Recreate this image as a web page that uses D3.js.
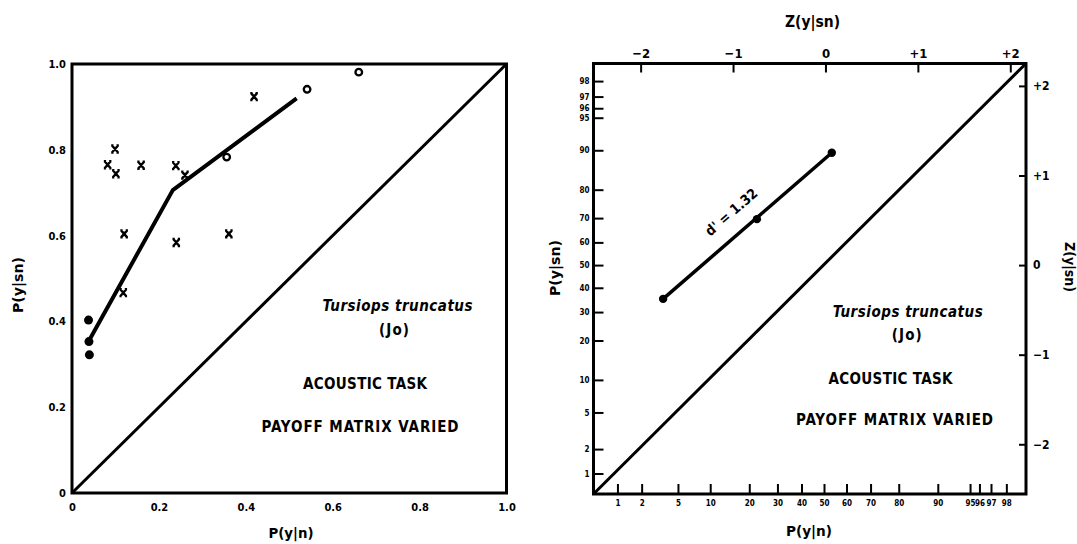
<!DOCTYPE html>
<html>
<head>
<meta charset="utf-8">
<script src="https://cdn.jsdelivr.net/npm/d3@7"></script>
<style>
  html,body{margin:0;padding:0;background:#fff;}
  svg{display:block;}
  text{font-family:"DejaVu Sans Condensed","Liberation Sans Narrow","Arial Narrow","DejaVu Sans",sans-serif;font-stretch:condensed;font-weight:bold;fill:#000;}
</style>
</head>
<body>
<svg id="chart" width="1077" height="544"></svg>
<script>
// ---------------- DATA ----------------
// Left panel (linear ROC space)
const linTicks = [0, 0.2, 0.4, 0.6, 0.8, 1.0];
const linTickLabels = ["0", "0.2", "0.4", "0.6", "0.8", "1.0"];

const crossPn  = [0.099, 0.082, 0.101, 0.159, 0.239, 0.260, 0.419, 0.120, 0.240, 0.361, 0.118];
const crossPsn = [0.802, 0.765, 0.744, 0.764, 0.763, 0.741, 0.924, 0.604, 0.584, 0.604, 0.467];

const openPn  = [0.541, 0.356, 0.660];
const openPsn = [0.941, 0.783, 0.981];

const filledPn  = [0.038, 0.039, 0.040];
const filledPsn = [0.403, 0.353, 0.322];

const rocPn  = [0.039, 0.232, 0.517];
const rocPsn = [0.355, 0.706, 0.920];

// Right panel (normal-normal / probit space)
const probTicks = [1, 2, 5, 10, 20, 30, 40, 50, 60, 70, 80, 90, 95, 96, 97, 98];
const probTickLabels = ["1", "2", "5", "10", "20", "30", "40", "50", "60", "70", "80", "90", "95", "96", "97", "98"];
const zTicks = [-2, -1, 0, 1, 2];
const zTickLabels = ["\u22122", "\u22121", "0", "+1", "+2"];

const zPn  = [0.035, 0.225, 0.535];
const zPsn = [0.353, 0.696, 0.895];
const dPrimeLabel = "d' = 1.32";

const speciesText = "Tursiops truncatus";
const subjectText = "(Jo)";
const taskText = "ACOUSTIC TASK";
const conditionText = "PAYOFF MATRIX VARIED";

// ---------------- HELPERS ----------------
function probit(p){
  const a=[-3.969683028665376e+01,2.209460984245205e+02,-2.759285104469687e+02,1.383577518672690e+02,-3.066479806614716e+01,2.506628277459239e+00];
  const b=[-5.447609879822406e+01,1.615858368580409e+02,-1.556989798598866e+02,6.680131188771972e+01,-1.328068155288572e+01];
  const c=[-7.784894002430293e-03,-3.223964580411365e-01,-2.400758277161838e+00,-2.549732539343734e+00,4.374664141464968e+00,2.938163982698783e+00];
  const d=[7.784695709041462e-03,3.224671290700398e-01,2.445134137142996e+00,3.754408661907416e+00];
  const pl=0.02425;
  if(p<pl){const q=Math.sqrt(-2*Math.log(p));return (((((c[0]*q+c[1])*q+c[2])*q+c[3])*q+c[4])*q+c[5])/((((d[0]*q+d[1])*q+d[2])*q+d[3])*q+1);}
  if(p>1-pl){const q=Math.sqrt(-2*Math.log(1-p));return -(((((c[0]*q+c[1])*q+c[2])*q+c[3])*q+c[4])*q+c[5])/((((d[0]*q+d[1])*q+d[2])*q+d[3])*q+1);}
  const q=p-0.5,r=q*q;
  return (((((a[0]*r+a[1])*r+a[2])*r+a[3])*r+a[4])*r+a[5])*q/(((((b[0]*r+b[1])*r+b[2])*r+b[3])*r+b[4])*r+1);
}

const svg = d3.select("#chart");
svg.append("rect").attr("width",1077).attr("height",544).attr("fill","#fff");

// ---------------- LEFT PANEL ----------------
const xL = d3.scaleLinear().domain([0,1]).range([72, 506.5]);
const yL = d3.scaleLinear().domain([0,1]).range([493, 64]);
const L = svg.append("g");

L.append("rect")
  .attr("x", xL(0)).attr("y", yL(1))
  .attr("width", xL(1)-xL(0)).attr("height", yL(0)-yL(1))
  .attr("fill","none").attr("stroke","#000").attr("stroke-width",3);

const axL_b = L.append("g").attr("transform",`translate(0,${yL(0)})`)
  .call(d3.axisBottom(xL).tickValues(linTicks).tickFormat((d,i)=>linTickLabels[i]).tickSize(0).tickPadding(10));
const axL_l = L.append("g").attr("transform",`translate(${xL(0)},0)`)
  .call(d3.axisLeft(yL).tickValues(linTicks).tickFormat((d,i)=>linTickLabels[i]).tickSize(0).tickPadding(6));
[axL_b, axL_l].forEach(a=>{
  a.select(".domain").remove();
  a.selectAll("text").style("font-size","11px").style("font-family",null).attr("fill","#000");
});

// chance diagonal
L.append("line")
  .attr("x1",xL(0)).attr("y1",yL(0)).attr("x2",xL(1)).attr("y2",yL(1))
  .attr("stroke","#000").attr("stroke-width",3);

// ROC line
const rocData = rocPn.map((v,i)=>[v, rocPsn[i]]);
L.append("path").datum(rocData)
  .attr("d", d3.line().x(d=>xL(d[0])).y(d=>yL(d[1])))
  .attr("fill","none").attr("stroke","#000").attr("stroke-width",4).attr("stroke-linejoin","round");

// crosses
L.selectAll("path.cross").data(crossPn.map((v,i)=>[v, crossPsn[i]])).enter()
  .append("path").attr("class","cross")
  .attr("transform", d=>`translate(${xL(d[0])},${yL(d[1])})`)
  .attr("d","M-3,-3.5L3,3.5M3,-3.5L-3,3.5M-3.8,-3.5H-1.5M1.5,-3.5H3.8M-3.8,3.5H-1.5M1.5,3.5H3.8")
  .attr("fill","none").attr("stroke","#000").attr("stroke-width",2.4);

// open circles
L.selectAll("circle.open").data(openPn.map((v,i)=>[v, openPsn[i]])).enter()
  .append("circle").attr("class","open")
  .attr("cx", d=>xL(d[0])).attr("cy", d=>yL(d[1])).attr("r",3.3)
  .attr("fill","#fff").attr("stroke","#000").attr("stroke-width",2.3);

// filled circles
L.selectAll("circle.filled").data(filledPn.map((v,i)=>[v, filledPsn[i]])).enter()
  .append("circle").attr("class","filled")
  .attr("cx", d=>xL(d[0])).attr("cy", d=>yL(d[1])).attr("r",4.5)
  .attr("fill","#000");

// titles
L.append("text").attr("x",291).attr("y",538).attr("text-anchor","middle")
  .style("font-size","14px").attr("textLength",45).attr("lengthAdjust","spacingAndGlyphs").text("P(y|n)");
L.append("text").attr("transform","translate(23,285) rotate(-90)").attr("text-anchor","middle")
  .style("font-size","14px").attr("textLength",56).attr("lengthAdjust","spacingAndGlyphs").text("P(y|sn)");

function panelTexts(g, cx, ys){
  g.append("text").attr("x",cx[0]).attr("y",ys[0]).attr("text-anchor","middle")
    .style("font-size","15px").style("font-style","italic")
    .attr("textLength",150).attr("lengthAdjust","spacing").text(speciesText);
  g.append("text").attr("x",cx[1]).attr("y",ys[1]).attr("text-anchor","middle")
    .style("font-size","15px").attr("textLength",30).attr("lengthAdjust","spacing").text(subjectText);
  g.append("text").attr("x",cx[2]).attr("y",ys[2]).attr("text-anchor","middle")
    .style("font-size","15px").attr("textLength",124).attr("lengthAdjust","spacing").text(taskText);
  g.append("text").attr("x",cx[3]).attr("y",ys[3]).attr("text-anchor","middle")
    .style("font-size","15px").attr("textLength",197).attr("lengthAdjust","spacing").text(conditionText);
}
panelTexts(L, [397.5, 394, 365, 360], [310.5, 335, 389, 432]);

// ---------------- RIGHT PANEL ----------------
// bottom probability axis (probit) and top z axis are drawn slightly differently in the original
const xZ   = d3.scaleLinear().domain([-2.596, 2.275]).range([593.5, 1026]);   // z of P(y|n), bottom grid
const xTop = d3.scaleLinear().domain([-2.51, 2.17]).range([593.5, 1026]);     // top z scale
const yZ   = d3.scaleLinear().domain([-2.555, 2.25]).range([494, 63.5]);      // z of P(y|sn)
const R = svg.append("g");

const fx0 = xZ.range()[0], fx1 = xZ.range()[1], fy0 = yZ.range()[0], fy1 = yZ.range()[1];
R.append("rect")
  .attr("x", fx0).attr("y", fy1).attr("width", fx1-fx0).attr("height", fy0-fy1)
  .attr("fill","none").attr("stroke","#000").attr("stroke-width",3);

const probZ = probTicks.map(p=>probit(p/100));

const axB = R.append("g").attr("transform",`translate(0,${fy0})`)
  .call(d3.axisBottom(xZ).tickValues(probZ).tickFormat((d,i)=>probTickLabels[i]).tickSizeInner(-10).tickSizeOuter(0).tickPadding(6));
const axLft = R.append("g").attr("transform",`translate(${fx0},0)`)
  .call(d3.axisLeft(yZ).tickValues(probZ).tickFormat((d,i)=>probTickLabels[i]).tickSizeInner(-10).tickSizeOuter(0).tickPadding(4));
const axT = R.append("g").attr("transform",`translate(0,${fy1})`)
  .call(d3.axisTop(xTop).tickValues(zTicks).tickFormat((d,i)=>zTickLabels[i]).tickSizeInner(-9).tickSizeOuter(0).tickPadding(6));
const axR = R.append("g").attr("transform",`translate(${fx1},0)`)
  .call(d3.axisRight(yZ).tickValues(zTicks).tickFormat((d,i)=>zTickLabels[i]).tickSizeInner(-7).tickSizeOuter(0).tickPadding(7));

[axB, axLft, axT, axR].forEach(a=>{
  a.select(".domain").remove();
  a.selectAll(".tick line").attr("stroke","#000").attr("stroke-width",2);
  a.selectAll("text").style("font-family",null).attr("fill","#000");
});
axB.selectAll("text").style("font-size","8px");
axLft.selectAll("text").style("font-size","8px");
axT.selectAll("text").style("font-size","13px");
axR.selectAll("text").style("font-size","12px");

// diagonal (corner to corner)
R.append("line")
  .attr("x1",fx0).attr("y1",fy0).attr("x2",fx1).attr("y2",fy1)
  .attr("stroke","#000").attr("stroke-width",3);

// z-line
const zData = zPn.map((v,i)=>[probit(v), probit(zPsn[i])]);
R.append("path").datum([zData[0], zData[zData.length-1]])
  .attr("d", d3.line().x(d=>xZ(d[0])).y(d=>yZ(d[1])))
  .attr("fill","none").attr("stroke","#000").attr("stroke-width",3.5);
R.selectAll("circle.zpt").data(zData).enter().append("circle").attr("class","zpt")
  .attr("cx",d=>xZ(d[0])).attr("cy",d=>yZ(d[1])).attr("r",4.2).attr("fill","#000");

// d' label along the line
{
  const p0=[xZ(zData[0][0]), yZ(zData[0][1])], p1=[xZ(zData[2][0]), yZ(zData[2][1])];
  const dx=p1[0]-p0[0], dy=p1[1]-p0[1], len=Math.hypot(dx,dy);
  const ux=dx/len, uy=dy/len, nx=uy, ny=-ux; // normal pointing up-left
  const t=0.486*len, off=21;
  const cx=p0[0]+ux*t+nx*off, cy=p0[1]+uy*t+ny*off;
  const ang=Math.atan2(dy,dx)*180/Math.PI;
  R.append("text").attr("transform",`translate(${cx},${cy}) rotate(${ang})`)
    .attr("text-anchor","middle").attr("dy","0.35em")
    .style("font-size","14px").attr("textLength",64).attr("lengthAdjust","spacing").text(dPrimeLabel);
}

// titles
R.append("text").attr("x",809).attr("y",536).attr("text-anchor","middle")
  .style("font-size","14px").attr("textLength",46).attr("lengthAdjust","spacingAndGlyphs").text("P(y|n)");
R.append("text").attr("transform","translate(560,268) rotate(-90)").attr("text-anchor","middle")
  .style("font-size","14px").attr("textLength",56).attr("lengthAdjust","spacingAndGlyphs").text("P(y|sn)");
R.append("text").attr("x",812.5).attr("y",27).attr("text-anchor","middle")
  .style("font-size","15px").attr("textLength",55).attr("lengthAdjust","spacingAndGlyphs").text("Z(y|sn)");
R.append("text").attr("transform","translate(1065,267) rotate(90)").attr("text-anchor","middle")
  .style("font-size","14px").attr("textLength",50).attr("lengthAdjust","spacingAndGlyphs").text("Z(y|sn)");

panelTexts(R, [907.7, 906.7, 890.5, 894.5], [316.5, 339.5, 384.3, 425]);
</script>
</body>
</html>
